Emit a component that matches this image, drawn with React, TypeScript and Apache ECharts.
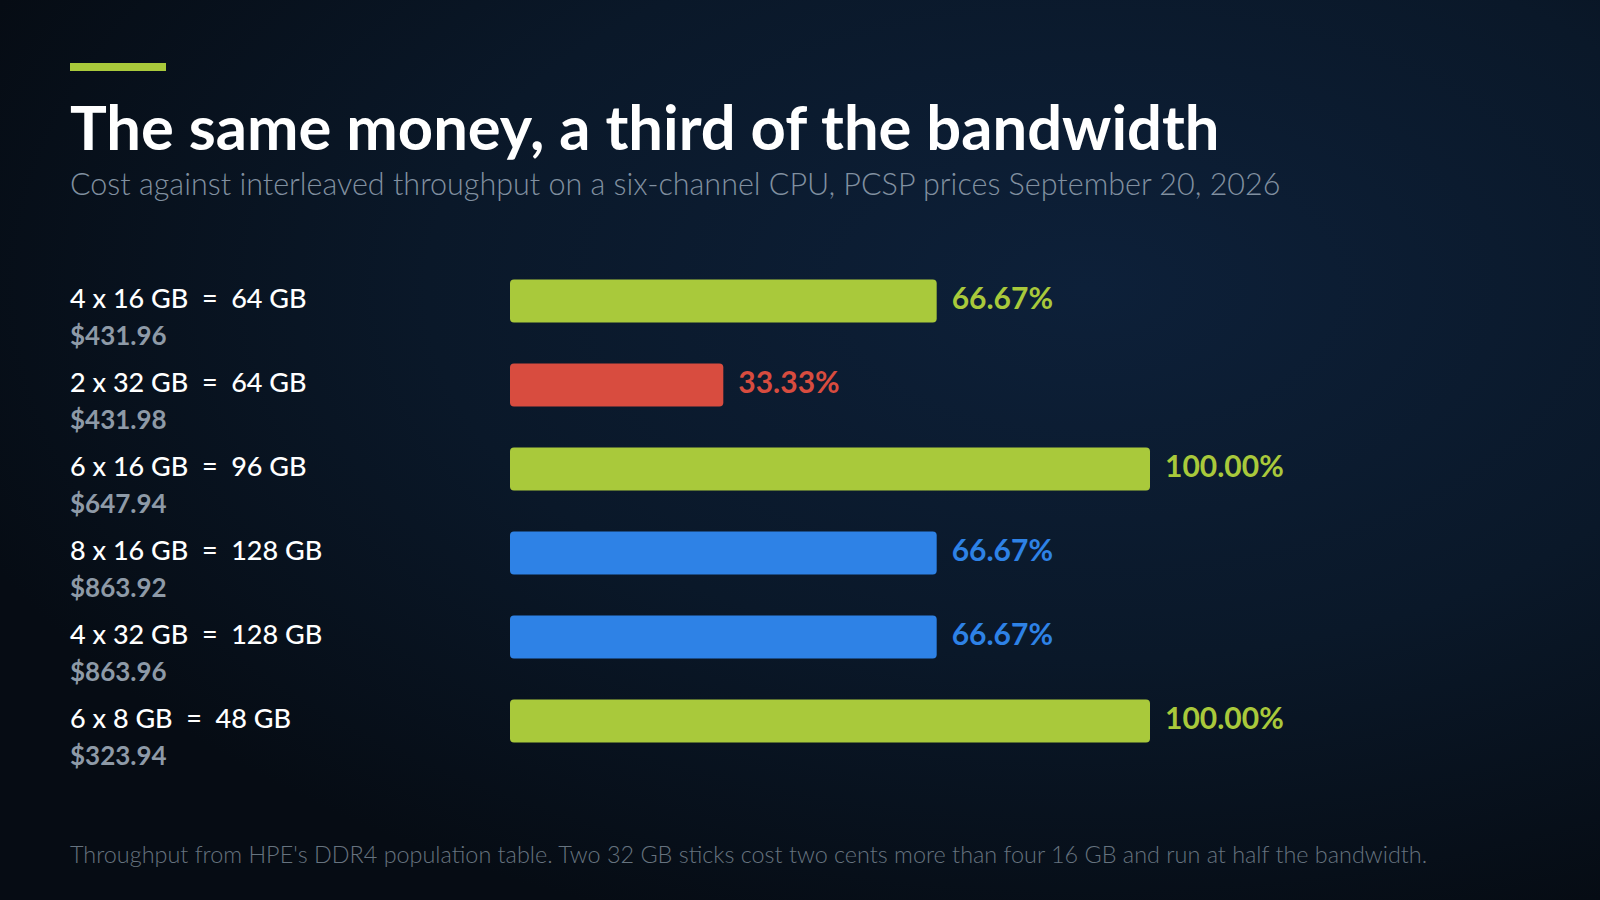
import React, { useEffect, useRef } from 'react'
import * as echarts from 'echarts'

const configs = ['4 x 16 GB', '2 x 32 GB', '6 x 16 GB', '8 x 16 GB', '4 x 32 GB', '6 x 8 GB']
const totals = ['64 GB', '64 GB', '96 GB', '128 GB', '128 GB', '48 GB']
const prices = [431.96, 431.98, 647.94, 863.92, 863.96, 323.94]
const bandwidth = [66.67, 33.33, 100, 66.67, 66.67, 100]
const barColors = ['#a9c93b', '#d84c3f', '#a9c93b', '#2e82e6', '#2e82e6', '#a9c93b']

const FONT = 'Lato, "Noto Sans", sans-serif'

export default function App() {
  const chartRef = useRef<HTMLDivElement>(null)

  useEffect(() => {
    document.body.style.margin = '0'
    if (!chartRef.current) return
    const chart = echarts.init(chartRef.current, null, { renderer: 'svg' })

    const option: echarts.EChartsOption = {
      animation: false,
      backgroundColor: {
        type: 'radial',
        x: 0.68,
        y: 0.32,
        r: 0.75,
        colorStops: [
          { offset: 0, color: '#0d2039' },
          { offset: 0.55, color: '#0a1829' },
          { offset: 1, color: '#060c14' }
        ]
      },
      textStyle: { fontFamily: FONT },
      graphic: [
        { type: 'rect', shape: { x: 70, y: 63, width: 96, height: 8 }, style: { fill: '#a9c93b' } },
        {
          type: 'text',
          x: 70,
          y: 126,
          style: {
            text: 'The same money, a third of the bandwidth',
            fill: '#ffffff',
            font: `bold 61.5px ${FONT}`,
            textVerticalAlign: 'middle'
          }
        },
        {
          type: 'text',
          x: 70,
          y: 183,
          style: {
            text: 'Cost against interleaved throughput on a six-channel CPU, PCSP prices September 20, 2026',
            fill: '#8190a0',
            font: `300 30.5px ${FONT}`,
            textVerticalAlign: 'middle'
          }
        },
        {
          type: 'text',
          x: 70,
          y: 854,
          style: {
            text: "Throughput from HPE's DDR4 population table. Two 32 GB sticks cost two cents more than four 16 GB and run at half the bandwidth.",
            fill: '#66737f',
            font: `300 23.4px ${FONT}`,
            textVerticalAlign: 'middle'
          }
        }
      ],
      grid: { left: 510, top: 259, width: 640, height: 504, containLabel: false },
      xAxis: {
        type: 'value',
        min: 0,
        max: 100,
        show: false
      },
      yAxis: {
        type: 'category',
        inverse: true,
        data: configs,
        axisLine: { show: false },
        axisTick: { show: false },
        splitLine: { show: false },
        axisLabel: {
          align: 'left',
          margin: 440,
          padding: [30, 0, 0, 0],
          formatter: (_v: string, i: number) =>
            `{a|${configs[i]}  =  ${totals[i]}}\n{b|$${prices[i].toFixed(2)}}`,
          rich: {
            a: { fontSize: 27, fontWeight: 500, color: '#ffffff', lineHeight: 38, fontFamily: FONT },
            b: { fontSize: 26, fontWeight: 'bold', color: '#8e9aa7', lineHeight: 38, fontFamily: FONT }
          }
        }
      },
      series: [
        {
          type: 'bar',
          barWidth: 43,
          data: bandwidth.map((v, i) => ({
            value: v,
            itemStyle: { color: barColors[i], borderRadius: 4 },
            label: { color: barColors[i] }
          })),
          label: {
            show: true,
            position: 'right',
            distance: 15,
            offset: [0, -4],
            fontSize: 30,
            fontWeight: 'bold',
            fontFamily: FONT,
            formatter: (p: any) => `${Number(p.value).toFixed(2)}%`
          }
        }
      ]
    }

    chart.setOption(option)
    return () => {
      chart.dispose()
    }
  }, [])

  return <div ref={chartRef} style={{ width: 1600, height: 900 }} />
}
